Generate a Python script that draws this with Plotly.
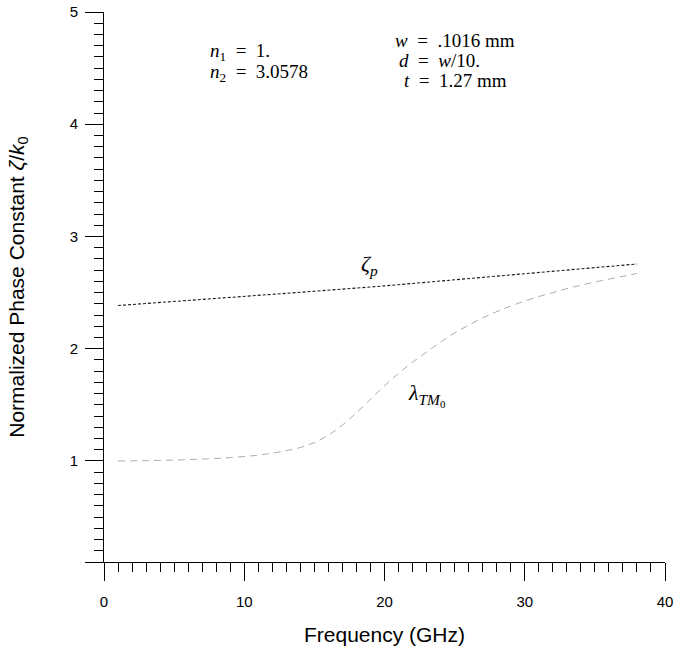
import plotly.graph_objects as go

# Data
freq_zeta = [1, 5, 10, 15, 20, 25, 30, 35, 38]
zeta_p = [2.385, 2.42, 2.465, 2.512, 2.56, 2.613, 2.667, 2.72, 2.755]

freq_tm = [1, 3, 5, 7, 9, 11, 12, 13, 14, 15, 16, 17, 18, 19, 20, 21, 22, 23, 24,
           25, 26, 27, 28, 29, 30, 31, 32, 33, 34, 35, 36, 37, 38]
lambda_tm0 = [1.0, 1.003, 1.008, 1.017, 1.03, 1.052, 1.07, 1.092, 1.12, 1.165, 1.23,
              1.32, 1.43, 1.55, 1.67, 1.78, 1.88, 1.97, 2.06, 2.14, 2.21, 2.275, 2.33,
              2.38, 2.425, 2.465, 2.50, 2.535, 2.565, 2.595, 2.62, 2.645, 2.67]

x_ticks = [0, 10, 20, 30, 40]
y_ticks = [0.1, 1, 2, 3, 4, 5]
y_ticktext = ["", "1", "2", "3", "4", "5"]

fig = go.Figure()
fig.add_trace(go.Scatter(x=freq_zeta, y=zeta_p, mode="lines",
                         line=dict(color="#1a1a1a", width=1.1, dash="3px,2px"),
                         showlegend=False, hoverinfo="skip"))
fig.add_trace(go.Scatter(x=freq_tm, y=lambda_tm0, mode="lines", line_shape="spline",
                         line=dict(color="#888888", width=0.7, dash="7px,5px"),
                         showlegend=False, hoverinfo="skip"))

serif = "Liberation Serif"
ann_font = dict(family=serif, size=19, color="black")
sp = "&nbsp;&nbsp;"
notes = [
    (208, 52, f"<i>n</i><sub>1</sub>{sp}={sp}1."),
    (208, 73, f"<i>n</i><sub>2</sub>{sp}={sp}3.0578"),
    (393, 40, f"<i>w</i>{sp}={sp}.1016&nbsp;mm"),
    (397, 60, f"<i>d</i>{sp}={sp}<i>w</i>/10."),
    (402, 80, f"<i>t</i>{sp}={sp}1.27&nbsp;mm"),
]
for px, py, txt in notes:
    fig.add_annotation(x=(px - 104) / 561, y=(562 - py) / 550, xref="paper", yref="paper",
                       text=txt, showarrow=False, xanchor="left", yanchor="middle",
                       font=ann_font)

fig.add_annotation(x=18.96, y=2.75, text="<i>ζ</i><sub><i>p</i></sub>", showarrow=False,
                   font=dict(family=serif, size=22, color="black"))
fig.add_annotation(x=23.0, y=1.59, text="<i>λ</i><sub><i>TM</i><sub>0</sub></sub>",
                   showarrow=False, font=dict(family=serif, size=22, color="black"))

axis_font = dict(family="Liberation Sans", size=15, color="black")
fig.update_xaxes(range=[0, 40], tickvals=x_ticks, ticks="outside", ticklen=18,
                 tickwidth=1, tickcolor="black", showline=True, linecolor="black",
                 linewidth=1, showgrid=False, zeroline=False, tickfont=axis_font,
                 ticklabelstandoff=8, automargin=False,
                 minor=dict(dtick=1, tick0=0, ticks="outside", ticklen=9,
                            tickcolor="black", tickwidth=1, showgrid=False),
                 title=dict(text="Frequency (GHz)",
                            font=dict(family="Liberation Sans", size=21, color="black"),
                            standoff=18))
fig.update_yaxes(range=[0.1, 5], tickvals=y_ticks, ticktext=y_ticktext, ticks="outside",
                 ticklen=18, tickwidth=1, tickcolor="black", showline=True,
                 linecolor="black", linewidth=1, showgrid=False, zeroline=False,
                 tickfont=axis_font, ticklabelstandoff=4, automargin=False,
                 minor=dict(dtick=0.1, tick0=0, ticks="outside", ticklen=9,
                            tickcolor="black", tickwidth=1, showgrid=False),
                 title=dict(text="Normalized Phase Constant <i>ζ</i>/<i>k</i><sub>0</sub>",
                            font=dict(family="Liberation Sans", size=21, color="black"),
                            standoff=39))

fig.update_layout(width=675, height=654, margin=dict(l=104, r=10, t=12, b=92),
                  plot_bgcolor="white", paper_bgcolor="white")
fig.write_html("out.html")
